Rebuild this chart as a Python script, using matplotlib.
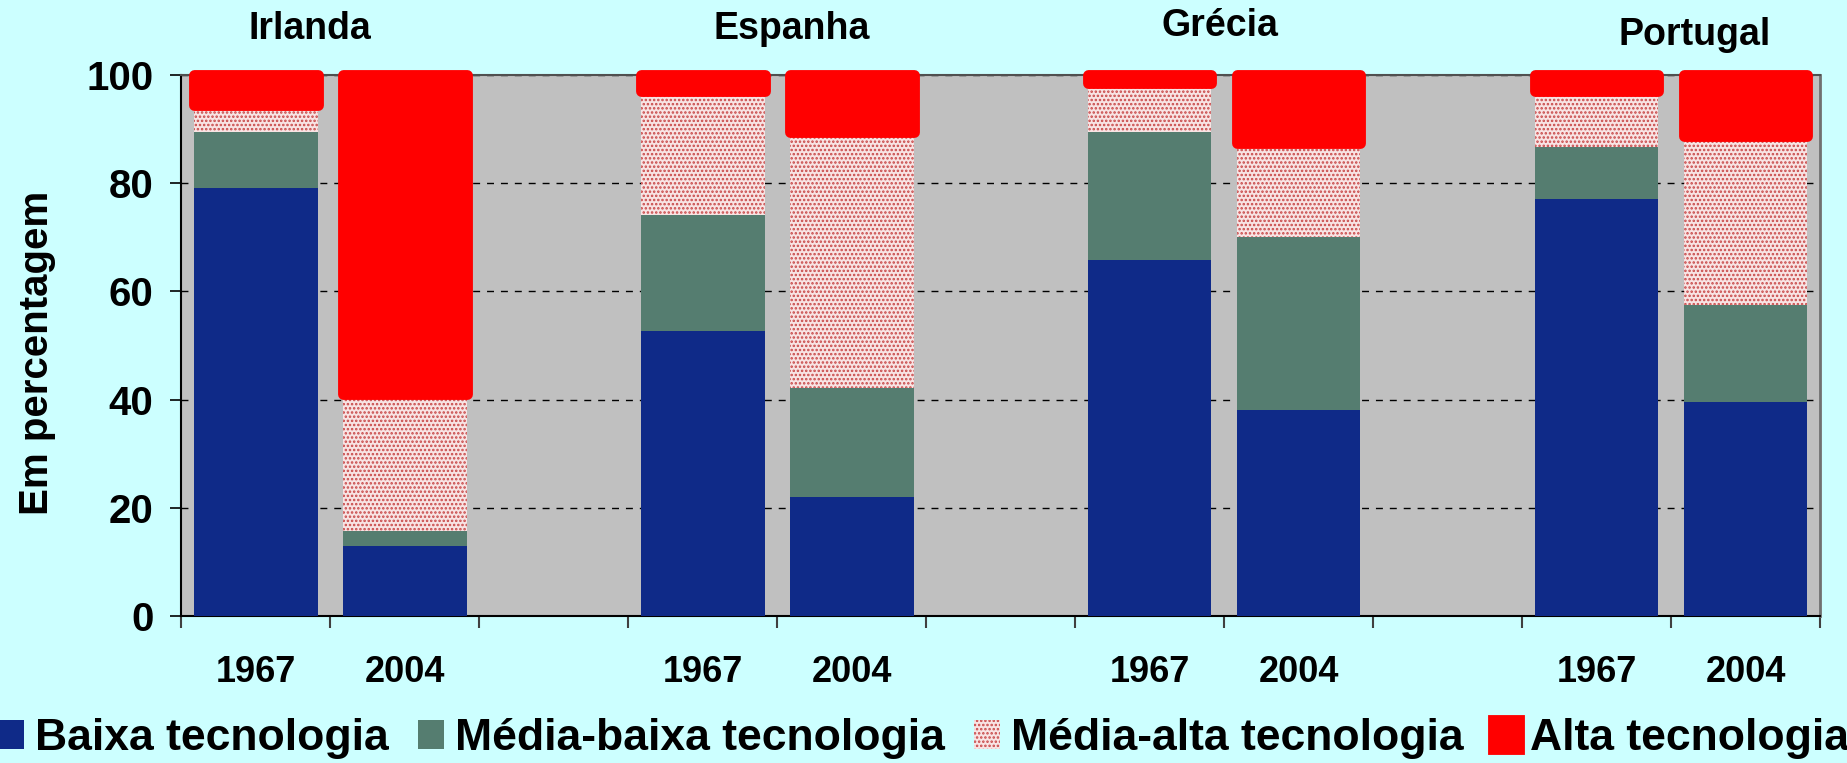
import matplotlib
matplotlib.use("Agg")
import matplotlib.pyplot as plt
import numpy as np

countries = ['Irlanda', 'Espanha', 'Grécia', 'Portugal']
years = ['1967', '2004']
series_names = ['Baixa tecnologia', 'Média-baixa tecnologia', 'Média-alta tecnologia', 'Alta tecnologia']
# order: Irlanda 1967, 2004, Espanha 1967, 2004, Grécia 1967, 2004, Portugal 1967, 2004
baixa = [79.2, 13.0, 52.7, 22.0, 65.8, 38.1, 77.1, 39.6]
media_baixa = [10.3, 2.7, 21.4, 20.1, 23.7, 32.0, 9.6, 17.9]
media_alta = [5.0, 25.3, 23.0, 47.4, 9.0, 17.3, 10.4, 31.3]
alta = [5.5, 59.0, 2.9, 10.5, 1.5, 12.6, 2.9, 11.2]
yticks = [0, 20, 40, 60, 80, 100]

plt.rcParams['font.family'] = ['Liberation Sans', 'DejaVu Sans']
plt.rcParams['font.weight'] = 'bold'
plt.rcParams['hatch.linewidth'] = 1.2

W, H = 1847, 763
fig = plt.figure(figsize=(W / 100, H / 100), dpi=100, facecolor='#CCFFFF')
ax = fig.add_axes([181.4 / W, 1 - 616 / H, (1820 - 181.4) / W, (616 - 75) / H])
ax.set_facecolor('#C0C0C0')

n_slots = len(countries) * 3 - 1
slots = np.array([3 * c + y for c in range(len(countries)) for y in range(len(years))])
xpos = slots + 0.5
bw = 0.83

b = np.array(baixa)
mb = np.array(media_baixa)
ma = np.array(media_alta)
al = np.array(alta)

ax.bar(xpos, b, bw, color='#0F2A88', label=series_names[0], zorder=3, linewidth=0)
ax.bar(xpos, mb, bw, bottom=b, color='#557D70', label=series_names[1], zorder=3, linewidth=0)
ax.bar(xpos, ma, bw, bottom=b + mb, facecolor='#F8E4E4', edgecolor='#C84848', hatch='....',
       label=series_names[2], zorder=3, linewidth=0)
ax.bar(xpos, al, bw, bottom=b + mb + ma, color='#FF0000', edgecolor='#FF0000', linewidth=7.8,
       joinstyle='round', label=series_names[3], zorder=4, clip_on=False)

ax.set_xlim(0, n_slots)
ax.set_ylim(0, 100)
ax.set_yticks(yticks)
ax.set_yticklabels([str(v) for v in yticks], fontsize=29, fontweight='bold')
ax.tick_params(axis='y', length=8, width=1.2, pad=12, color='black')

ax.set_xticks(np.arange(0, n_slots + 1))
ax.set_xticklabels([])
ax.tick_params(axis='x', which='major', length=8.6, width=1.5, color='#404040')
ax.set_xticks(xpos, minor=True)
ax.set_xticklabels([years[i % 2] for i in range(len(xpos))], minor=True, fontsize=26, fontweight='bold')
ax.tick_params(axis='x', which='minor', length=0, pad=28)

ax.yaxis.grid(True, linestyle=(0, (5, 5)), color='black', linewidth=1.0, zorder=1)
ax.set_axisbelow(True)
for s in ['left', 'bottom']:
    ax.spines[s].set_color('black')
    ax.spines[s].set_linewidth(1.5)
ax.spines['top'].set_color('#505050')
ax.spines['top'].set_linewidth(1.5)
ax.spines['right'].set_color('#707070')
ax.spines['right'].set_linewidth(2)

title_x = [0.86, 4.10, 6.97, 10.16]
title_y = [108.5, 108.5, 109.1, 107.4]
for name, tx, ty in zip(countries, title_x, title_y):
    ax.text(tx, ty, name, ha='center', va='center', fontsize=27, fontweight='bold', clip_on=False)

fig.text(37 / W, 1 - 353 / H, 'Em percentagem', rotation=90, ha='center', va='center',
         fontsize=29, fontweight='bold')

fig.legend(loc='center', bbox_to_anchor=(0.5, 0.032), ncol=4, frameon=False,
           prop={'size': 32, 'weight': 'bold'}, handlelength=0.58, handleheight=0.65,
           handletextpad=0.26, columnspacing=0.65, borderaxespad=0, borderpad=0)

fig.savefig('out.png', dpi=100, facecolor=fig.get_facecolor())
